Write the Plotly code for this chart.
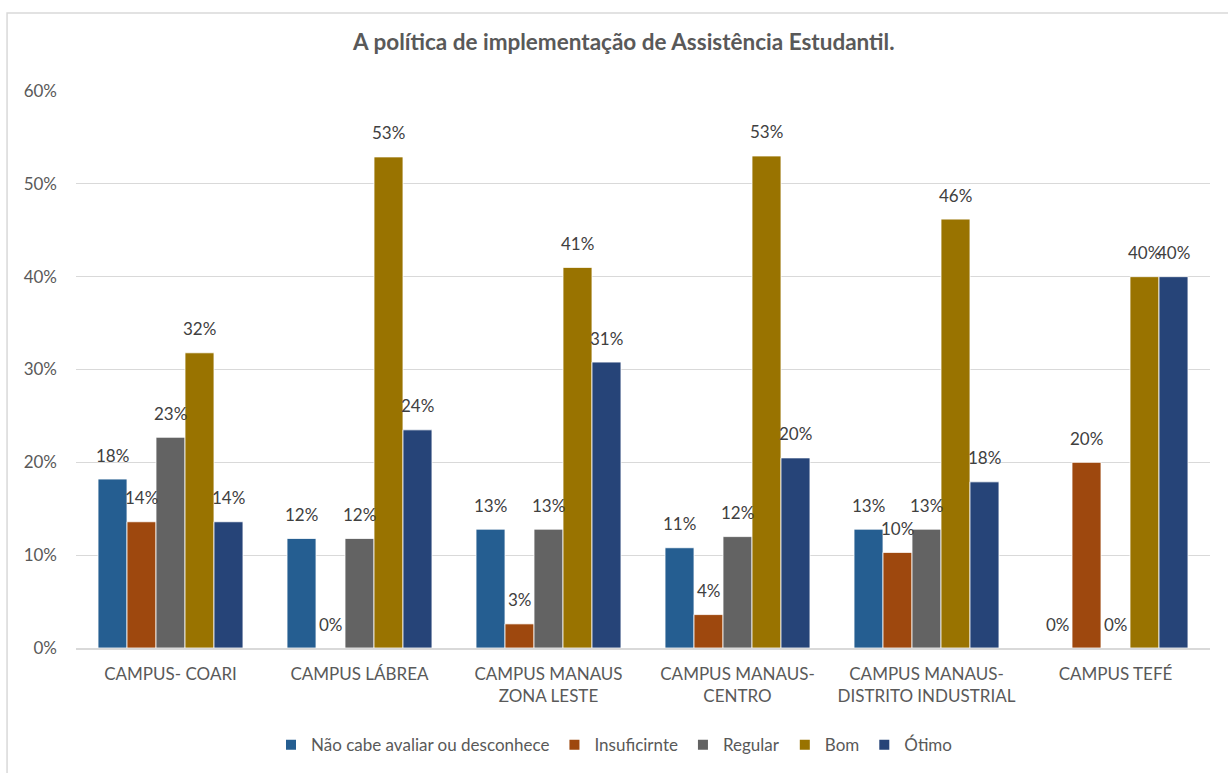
import plotly.graph_objects as go

# Survey results per campus (share of respondents)
campi = [
    "CAMPUS- COARI",
    "CAMPUS LÁBREA",
    "CAMPUS MANAUS<br>ZONA LESTE",
    "CAMPUS MANAUS-<br>CENTRO",
    "CAMPUS MANAUS-<br>DISTRITO INDUSTRIAL",
    "CAMPUS TEFÉ",
]
nao_cabe = [0.182, 0.118, 0.128, 0.108, 0.128, 0.0]
insuficiente = [0.136, 0.0, 0.026, 0.036, 0.103, 0.20]
regular = [0.227, 0.118, 0.128, 0.120, 0.128, 0.0]
bom = [0.318, 0.529, 0.410, 0.530, 0.462, 0.40]
otimo = [0.136, 0.235, 0.308, 0.2048, 0.179, 0.40]

series = [
    ("Não cabe avaliar ou desconhece", nao_cabe, "#255E91"),
    ("Insuficirnte", insuficiente, "#9E480E"),
    ("Regular", regular, "#636363"),
    ("Bom", bom, "#997300"),
    ("Ótimo", otimo, "#264478"),
]

FONT = "Lato, 'Open Sans', sans-serif"
TXT = "#595959"
BARGAP = 0.233

fig = go.Figure()
for name, vals, color in series:
    fig.add_trace(go.Bar(
        name=name,
        x=campi,
        y=vals,
        marker=dict(color=color, line=dict(color="white", width=0.8)),
    ))

# value labels above each bar, placed at the grouped bar centres
n_series = len(series)
bar_w = (1 - BARGAP) / n_series
annotations = []
for j, (_, vals, _) in enumerate(series):
    for i, v in enumerate(vals):
        annotations.append(dict(
            x=i - (1 - BARGAP) / 2 + (j + 0.5) * bar_w,
            y=v,
            xref="x", yref="y",
            text=f"{v:.0%}",
            showarrow=False,
            yanchor="middle",
            yshift=24,
            font=dict(family=FONT, size=17, color="#404040"),
        ))

fig.update_layout(
    width=1228,
    height=773,
    barmode="group",
    bargap=BARGAP,
    bargroupgap=0,
    paper_bgcolor="white",
    plot_bgcolor="white",
    margin=dict(l=76, r=18, t=91, b=125, autoexpand=False),
    font=dict(family=FONT, size=17, color=TXT),
    title=dict(
        text="<b>A política de implementação de Assistência Estudantil.</b>",
        x=0.508, xanchor="center", y=0.946, yanchor="middle",
        font=dict(family=FONT, size=22.5, color=TXT),
    ),
    yaxis=dict(
        range=[0, 0.6],
        dtick=0.1,
        tickformat=".0%",
        showgrid=True,
        gridcolor="#D9D9D9",
        gridwidth=1,
        zeroline=False,
        showline=False,
        ticks="",
        automargin=False,
        ticklabelstandoff=18,
        tickfont=dict(family=FONT, size=17, color=TXT),
    ),
    xaxis=dict(
        showline=True,
        linecolor="#D9D9D9",
        linewidth=1.5,
        ticks="",
        automargin=False,
        ticklabelstandoff=10,
        tickfont=dict(family=FONT, size=17, color=TXT),
    ),
    legend=dict(
        orientation="h",
        x=0.5, xanchor="center", xref="container",
        y=0.036, yanchor="middle", yref="container",
        font=dict(family=FONT, size=17, color=TXT),
        itemsizing="constant",
        traceorder="normal",
        itemwidth=30,
    ),
    annotations=annotations,
    shapes=[
        dict(
            type="rect", xref="paper", yref="paper",
            x0=-0.0608, x1=1.05, y0=-0.26, y1=1.14,
            line=dict(color="#D9D9D9", width=1.5),
            fillcolor="rgba(0,0,0,0)",
            layer="below",
        )
    ],
)

fig.write_html("out.html")
